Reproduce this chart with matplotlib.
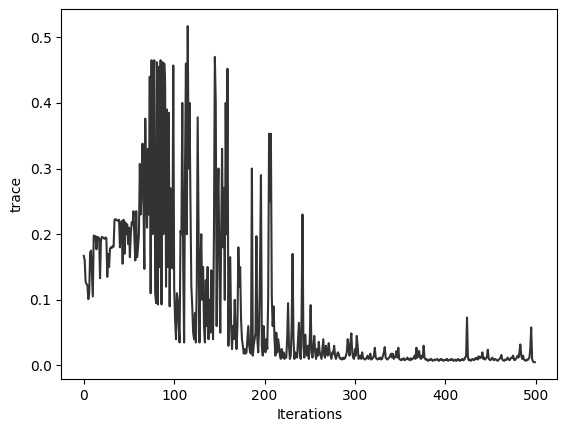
import numpy as np
import matplotlib.pyplot as plt

# trace values, one row = 10 iterations
trace = [
    0.167, 0.160, 0.128, 0.124, 0.122, 0.101, 0.110, 0.172, 0.175, 0.140,
    0.105, 0.198, 0.196, 0.197, 0.177, 0.196, 0.195, 0.194, 0.133, 0.190,
    0.196, 0.195, 0.194, 0.193, 0.195, 0.194, 0.135, 0.170, 0.150, 0.178,
    0.180, 0.179, 0.182, 0.181, 0.222, 0.223, 0.222, 0.221, 0.220, 0.222,
    0.180, 0.215, 0.220, 0.155, 0.222, 0.170, 0.218, 0.200, 0.215, 0.185,
    0.210, 0.165, 0.200, 0.218, 0.215, 0.235, 0.195, 0.160, 0.235, 0.165,
    0.180, 0.200, 0.307, 0.230, 0.270, 0.338, 0.250, 0.147, 0.376, 0.280,
    0.210, 0.330, 0.230, 0.440, 0.110, 0.465, 0.200, 0.420, 0.465, 0.110,
    0.095, 0.462, 0.093, 0.455, 0.150, 0.465, 0.093, 0.462, 0.200, 0.460,
    0.427, 0.120, 0.390, 0.150, 0.385, 0.090, 0.270, 0.200, 0.148, 0.457,
    0.120, 0.070, 0.040, 0.110, 0.100, 0.060, 0.035, 0.205, 0.200, 0.400,
    0.150, 0.035, 0.300, 0.460, 0.200, 0.517, 0.300, 0.400, 0.250, 0.120,
    0.090, 0.050, 0.040, 0.080, 0.035, 0.120, 0.378, 0.200, 0.035, 0.150,
    0.200, 0.100, 0.150, 0.060, 0.035, 0.130, 0.060, 0.150, 0.040, 0.100,
    0.050, 0.145, 0.080, 0.040, 0.200, 0.470, 0.400, 0.060, 0.250, 0.300,
    0.150, 0.050, 0.200, 0.330, 0.180, 0.270, 0.100, 0.400, 0.200, 0.452,
    0.030, 0.160, 0.165, 0.060, 0.025, 0.060, 0.040, 0.100, 0.050, 0.025,
    0.060, 0.180, 0.120, 0.150, 0.070, 0.040, 0.030, 0.018, 0.025, 0.018,
    0.020, 0.040, 0.060, 0.030, 0.020, 0.018, 0.300, 0.015, 0.030, 0.040,
    0.050, 0.197, 0.040, 0.020, 0.060, 0.150, 0.290, 0.030, 0.015, 0.060,
    0.030, 0.020, 0.040, 0.025, 0.100, 0.353, 0.250, 0.353, 0.105, 0.060,
    0.090, 0.040, 0.015, 0.050, 0.020, 0.040, 0.030, 0.015, 0.010, 0.025,
    0.012, 0.020, 0.010, 0.015, 0.012, 0.040, 0.095, 0.030, 0.010, 0.015,
    0.060, 0.170, 0.040, 0.010, 0.020, 0.015, 0.012, 0.040, 0.065, 0.020,
    0.010, 0.080, 0.230, 0.030, 0.012, 0.047, 0.020, 0.015, 0.030, 0.010,
    0.040, 0.092, 0.020, 0.012, 0.030, 0.045, 0.020, 0.010, 0.025, 0.015,
    0.036, 0.020, 0.015, 0.010, 0.025, 0.040, 0.015, 0.012, 0.030, 0.020,
    0.015, 0.034, 0.020, 0.015, 0.010, 0.020, 0.018, 0.030, 0.015, 0.010,
    0.015, 0.020, 0.018, 0.012, 0.010, 0.011, 0.009, 0.012, 0.010, 0.011,
    0.015, 0.020, 0.040, 0.025, 0.015, 0.035, 0.049, 0.020, 0.012, 0.010,
    0.025, 0.015, 0.045, 0.030, 0.010, 0.012, 0.015, 0.010, 0.020, 0.012,
    0.010, 0.009, 0.010, 0.012, 0.015, 0.010, 0.011, 0.018, 0.009, 0.010,
    0.012, 0.015, 0.027, 0.012, 0.010, 0.009, 0.011, 0.010, 0.012, 0.009,
    0.010, 0.015, 0.020, 0.028, 0.012, 0.010, 0.009, 0.011, 0.012, 0.015,
    0.018, 0.012, 0.018, 0.010, 0.012, 0.015, 0.022, 0.012, 0.027, 0.010,
    0.009, 0.008, 0.010, 0.009, 0.011, 0.008, 0.009, 0.010, 0.012, 0.009,
    0.010, 0.008, 0.011, 0.009, 0.010, 0.012, 0.015, 0.010, 0.027, 0.012,
    0.015, 0.022, 0.012, 0.010, 0.015, 0.012, 0.030, 0.012, 0.009, 0.010,
    0.008, 0.007, 0.009, 0.008, 0.010, 0.009, 0.007, 0.008, 0.009, 0.008,
    0.009, 0.010, 0.008, 0.007, 0.009, 0.010, 0.008, 0.009, 0.007, 0.008,
    0.009, 0.008, 0.010, 0.007, 0.008, 0.009, 0.008, 0.010, 0.009, 0.007,
    0.008, 0.009, 0.007, 0.008, 0.010, 0.008, 0.007, 0.009, 0.008, 0.010,
    0.008, 0.009, 0.012, 0.015, 0.073, 0.012, 0.008, 0.009, 0.007, 0.008,
    0.010, 0.009, 0.008, 0.011, 0.010, 0.012, 0.009, 0.014, 0.011, 0.013,
    0.012, 0.020, 0.010, 0.012, 0.009, 0.011, 0.013, 0.024, 0.010, 0.009,
    0.008, 0.010, 0.012, 0.009, 0.008, 0.010, 0.009, 0.008, 0.007, 0.009,
    0.010, 0.012, 0.016, 0.009, 0.008, 0.007, 0.009, 0.008, 0.010, 0.012,
    0.009, 0.008, 0.010, 0.012, 0.011, 0.015, 0.009, 0.008, 0.010, 0.012,
    0.015, 0.012, 0.020, 0.032, 0.015, 0.010, 0.015, 0.009, 0.008, 0.007,
    0.009, 0.008, 0.010, 0.012, 0.025, 0.058, 0.010, 0.006, 0.005, 0.005,
]
iterations = np.arange(len(trace))

fig = plt.figure(figsize=(5.67, 4.32), dpi=100)
plt.subplots_adjust(left=0.108, right=0.983, top=0.9785, bottom=0.1227)
plt.plot(iterations, trace, color='k', alpha=0.8, linewidth=1.5)
plt.xlabel('Iterations')
plt.ylabel('trace')
plt.savefig("out.png", dpi=100)
